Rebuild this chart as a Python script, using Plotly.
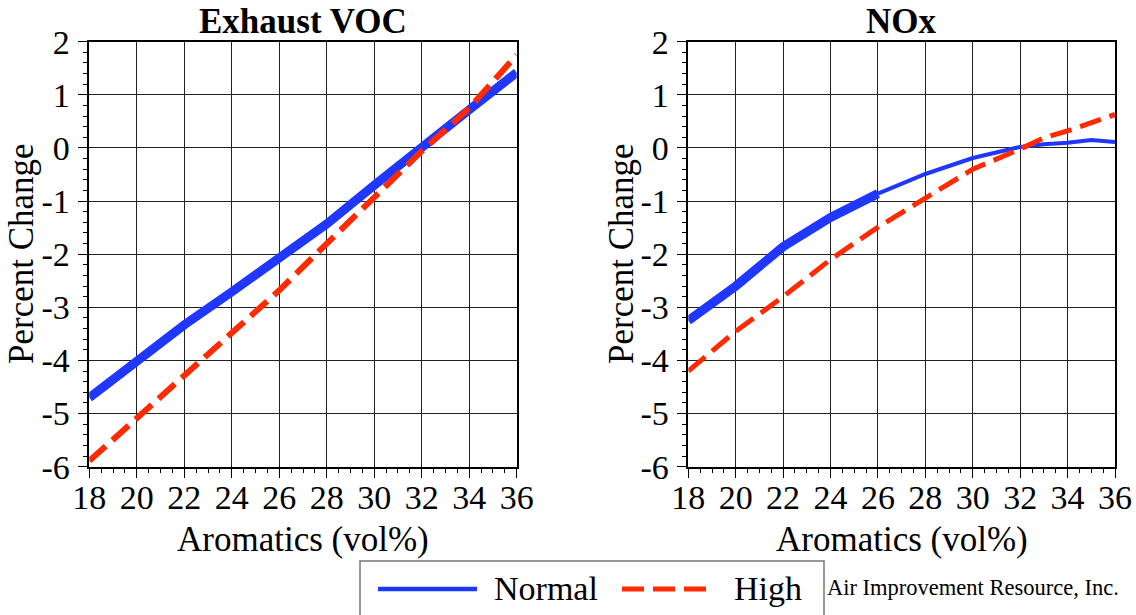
import plotly.graph_objects as go

# ---- data ----
aromatics = [18, 20, 22, 24, 26, 28, 30, 32, 34, 36]
voc_normal = [-4.70, -4.01, -3.33, -2.71, -2.06, -1.43, -0.70, 0.03, 0.72, 1.42]
voc_high = [-5.89, -5.08, -4.29, -3.48, -2.68, -1.80, -0.93, -0.06, 0.75, 1.75]

nox_aromatics = [18, 20, 22, 24, 26, 28, 30, 32, 33, 34, 35, 36]
nox_normal = [-3.25, -2.60, -1.86, -1.31, -0.86, -0.49, -0.19, 0.02, 0.07, 0.10, 0.15, 0.11]
nox_high = [-4.20, -3.45, -2.80, -2.10, -1.49, -0.95, -0.40, -0.02, 0.19, 0.32, 0.47, 0.63]

x_ticks = [18, 20, 22, 24, 26, 28, 30, 32, 34, 36]
y_ticks = [-6, -5, -4, -3, -2, -1, 0, 1, 2]
y_ticktext = ["-6", "-5", "-4", "-3", "-2", "-1", "0", "1", "2"]

titles = ["Exhaust VOC", "NOx"]
x_title = "Aromatics (vol%)"
y_title = "Percent Change"
series_names = ["Normal", "High"]
credit = "Air Improvement Resource, Inc."

BLUE = "#1f37ff"
RED = "#ff2a00"
FONT = "Liberation Serif"
W, H = 1136, 615


def px(x):
    return x / W


def py(y):
    return 1 - y / H


fig = go.Figure()

# Left: Exhaust VOC
fig.add_trace(go.Scatter(x=aromatics, y=voc_normal, mode="lines", xaxis="x", yaxis="y",
                         line=dict(color=BLUE, width=9), showlegend=False, name="Normal"))
fig.add_trace(go.Scatter(x=aromatics, y=voc_high, mode="lines", xaxis="x", yaxis="y",
                         line=dict(color=RED, width=6, dash="22px,9px"), showlegend=False, name="High"))

# Right: NOx (Normal thick up to 26, thin afterwards)
split = nox_aromatics.index(26)
fig.add_trace(go.Scatter(x=nox_aromatics[:split + 1], y=nox_normal[:split + 1], mode="lines",
                         xaxis="x2", yaxis="y2", line=dict(color=BLUE, width=9),
                         showlegend=False, name="Normal"))
fig.add_trace(go.Scatter(x=nox_aromatics[split:], y=nox_normal[split:], mode="lines",
                         xaxis="x2", yaxis="y2", line=dict(color=BLUE, width=4),
                         showlegend=False, name="Normal"))
fig.add_trace(go.Scatter(x=nox_aromatics, y=nox_high, mode="lines", xaxis="x2", yaxis="y2",
                         line=dict(color=RED, width=5, dash="22px,9px"), showlegend=False, name="High"))

ydom = [py(466.7), py(41.7)]
xdom1 = [px(89.3), px(516.7)]
xdom2 = [px(688.3), px(1115.0)]

common_x = dict(range=[18, 36], tickvals=x_ticks, showgrid=True, gridcolor="#222", gridwidth=1,
                showline=True, linecolor="black", linewidth=1.5, mirror=True,
                ticks="outside", ticklen=10, tickcolor="black", tickwidth=1,
                tickfont=dict(family=FONT, size=34, color="black"), zeroline=False,
                minor=dict(dtick=0.5, ticks="outside", ticklen=5, tickcolor="black", showgrid=False),
                ticklabelstandoff=-10, automargin=False, fixedrange=True)
common_y = dict(range=[-6, 2], tickvals=y_ticks, ticktext=y_ticktext, showgrid=True, gridcolor="#222",
                gridwidth=1, showline=True, linecolor="black", linewidth=1.5, mirror=True,
                ticks="outside", ticklen=10, tickcolor="black", tickwidth=1,
                tickfont=dict(family=FONT, size=34, color="black"), zeroline=False,
                minor=dict(dtick=0.2, ticks="outside", ticklen=5, tickcolor="black", showgrid=False),
                ticklabelstandoff=1, automargin=False, fixedrange=True)

fig.update_layout(
    width=W, height=H, margin=dict(l=0, r=0, t=0, b=0, autoexpand=False),
    paper_bgcolor="white", plot_bgcolor="white",
    xaxis=dict(domain=xdom1, anchor="y", **common_x),
    yaxis=dict(domain=ydom, anchor="x", **common_y),
    xaxis2=dict(domain=xdom2, anchor="y2", **common_x),
    yaxis2=dict(domain=ydom, anchor="x2", **common_y),
    showlegend=False,
)

ann = []
# titles
for t, dom in zip(titles, [xdom1, xdom2]):
    ann.append(dict(text="<b>%s</b>" % t, x=(dom[0] + dom[1]) / 2, y=py(21), xref="paper", yref="paper",
                    xanchor="center", yanchor="middle", showarrow=False,
                    font=dict(family=FONT, size=35, color="black")))
    ann.append(dict(text=x_title, x=(dom[0] + dom[1]) / 2, y=py(539), xref="paper", yref="paper",
                    xanchor="center", yanchor="middle", showarrow=False,
                    font=dict(family=FONT, size=35, color="black")))
for xc in [21, 621]:
    ann.append(dict(text=y_title, x=px(xc), y=py(254), xref="paper", yref="paper", textangle=-90,
                    xanchor="center", yanchor="middle", showarrow=False,
                    font=dict(family=FONT, size=35, color="black")))

# legend
ann.append(dict(text=series_names[0], x=px(492), y=py(588), xref="paper", yref="paper",
                xanchor="left", yanchor="middle", showarrow=False,
                font=dict(family=FONT, size=34, color="black")))
ann.append(dict(text=series_names[1], x=px(732), y=py(588), xref="paper", yref="paper",
                xanchor="left", yanchor="middle", showarrow=False,
                font=dict(family=FONT, size=34, color="black")))
ann.append(dict(text=credit, x=px(825), y=py(587), xref="paper", yref="paper",
                xanchor="left", yanchor="middle", showarrow=False,
                font=dict(family=FONT, size=22.5, color="black")))

shapes = [
    dict(type="rect", xref="paper", yref="paper", x0=px(360), x1=px(824), y0=py(640), y1=py(561),
         line=dict(color="#777", width=1.5), fillcolor="rgba(0,0,0,0)"),
    dict(type="line", xref="paper", yref="paper", x0=px(378), x1=px(477), y0=py(589), y1=py(589),
         line=dict(color=BLUE, width=4.5)),
    dict(type="line", xref="paper", yref="paper", x0=px(622), x1=px(709), y0=py(589), y1=py(589),
         line=dict(color=RED, width=5, dash="22px,9px")),
]

fig.update_layout(annotations=ann, shapes=shapes)
fig.write_html("out.html", config={"displayModeBar": False},
               post_script="document.body.style.margin='0';")
